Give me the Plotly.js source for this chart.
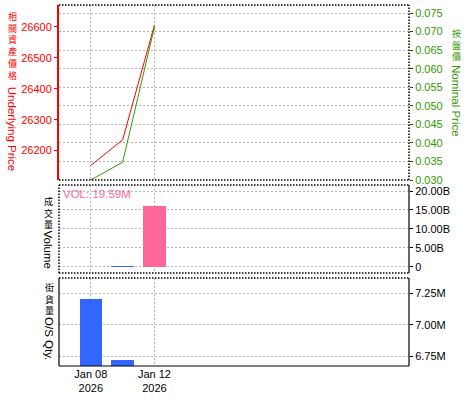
<!DOCTYPE html>
<html><head><meta charset="utf-8">
<script src="https://cdn.plot.ly/plotly-3.0.1.min.js"></script>
<style>html,body{margin:0;padding:0;background:#fff}#chart{width:475px;height:400px}</style>
</head><body><div id="chart"></div>
<script>
// ---- data ----
const dates = ["2026-01-08 12:00", "2026-01-09 12:00", "2026-01-12 12:00"];
const underlyingPrice = [26152, 26235, 26606];
const nominalPrice = [0.0300, 0.0348, 0.0712];
const volumeB = [0, 0.3, 16.05];
const volumeColors = ["#3366ff", "#3366ff", "#ff6699"];
const osQtyM = [7.205, 6.718, null];
const xTickVals = ["2026-01-08 12:00", "2026-01-12 12:00"];
const xTickText = ["Jan 08<br>2026", "Jan 12<br>2026"];
const underlyingTicks = [26200, 26300, 26400, 26500, 26600];
const volTickVals = [0, 5, 10, 15, 20];
const volTickText = ["0", "5.00B", "10.00B", "15.00B", "20.00B"];
const osTickVals = [6.75, 7.00, 7.25];
const osTickText = ["6.75M", "7.00M", "7.25M"];
const volLabel = "VOL: 19.59M";

// ---- geometry ----
const W = 475, H = 400, L = 59, R = 66, T = 5, B = 34;
const pw = W - L - R, ph = H - T - B;
const px2x = p => (p - L) / pw;
const px2y = p => (H - B - p) / ph;

const RED = "#ff0000", GREEN = "#339900", PINK = "#ff6699", BLUE = "#3366ff";
const GRID = "#b4b4b4";
const tickFont = {family: "Liberation Sans, Arial, sans-serif", size: 11, color: "#000"};
const xRange = ["2026-01-07 12:00", "2026-01-22 12:00"];
const rb = [{bounds: ["sat", "mon"]}];

const topDom = [px2y(180), 1];
const midDom = [px2y(273), px2y(185)];
const botDom = [0, px2y(278)];

function xax(anchor, labels) {
  return {
    type: "date", anchor: anchor, domain: [0, 1], range: xRange, rangebreaks: rb,
    tickmode: "array", tickvals: xTickVals, ticktext: xTickText,
    showticklabels: labels, ticks: "", showgrid: true, gridcolor: GRID, griddash: "2px,2px",
    zeroline: false, showline: false, tickfont: tickFont, fixedrange: true
  };
}

const traces = [
  {x: dates, y: underlyingPrice, xaxis: "x", yaxis: "y", type: "scatter", mode: "lines",
   line: {color: RED, width: 1}, showlegend: false, hoverinfo: "skip"},
  {x: dates, y: nominalPrice, xaxis: "x", yaxis: "y2", type: "scatter", mode: "lines",
   line: {color: GREEN, width: 1}, showlegend: false, hoverinfo: "skip"},
  {x: dates, y: volumeB, xaxis: "x2", yaxis: "y3", type: "bar",
   width: 0.71 * 86400000, marker: {color: volumeColors, line: {width: 0}}, showlegend: false, hoverinfo: "skip"},
  {x: dates, y: osQtyM, xaxis: "x3", yaxis: "y4", type: "bar",
   width: 0.71 * 86400000, marker: {color: BLUE, line: {width: 0}}, showlegend: false, hoverinfo: "skip"}
];

// vertical titles: CJK upright (stacked lines), Latin rotated to read downward
const annotations = [];
function vtitle(cjk, latin, xpx, cjkTop, latinCenter, color, cjkSize, latinSize) {
  annotations.push({text: Array.from(cjk).join("<br>"), xref: "paper", yref: "paper",
    x: px2x(xpx), y: px2y(cjkTop), xanchor: "center", yanchor: "top", borderpad: 0, showarrow: false,
    font: {family: "Noto Sans CJK TC, sans-serif", size: cjkSize, color: color}});
  annotations.push({text: latin, xref: "paper", yref: "paper", x: px2x(xpx), y: px2y(latinCenter),
    xanchor: "center", yanchor: "middle", textangle: 90, borderpad: 0, showarrow: false,
    font: {family: "Liberation Sans, Arial, sans-serif", size: latinSize, color: color}});
}
vtitle("相關資產價格", "Underlying Price", 12.7, 9, 128.5, RED, 9, 11.5);
vtitle("按盤價", "Nominal Price", 456, 26, 101, GREEN, 9, 11.5);
vtitle("成交量", "Volume", 48, 194, 249.5, "#000", 9, 11.5);
vtitle("街貨量", "O/S Qty.", 49, 280, 338, "#000", 9, 11.5);
annotations.push({text: volLabel, xref: "paper", yref: "paper", x: px2x(62), y: px2y(194),
  xanchor: "left", yanchor: "middle", showarrow: false, borderpad: 0,
  font: {family: "Liberation Sans, Arial, sans-serif", size: 11.5, color: PINK}});

// panel borders
const DOT = "1.5px,1.5px";
function seg(x0, y0, x1, y1, color, dash, w) {
  return {type: "line", xref: "paper", yref: "paper", x0: x0, y0: y0, x1: x1, y1: y1,
    line: {color: color, width: w || 1.5, dash: dash || "solid"}, layer: "above"};
}
const shapes = [
  seg(0, topDom[1], 1, topDom[1], "#000", DOT),
  seg(0, topDom[0], 1, topDom[0], "#000", DOT),
  seg(1, topDom[0], 1, topDom[1], "#000", DOT),
  seg(0, midDom[1], 1, midDom[1], "#000", DOT),
  seg(0, midDom[0], 1, midDom[0], "#000", DOT),
  seg(0, midDom[0], 0, midDom[1], "#000", DOT),
  seg(1, midDom[0], 1, midDom[1], "#000", "solid", 1.2),
  seg(0, botDom[1], 1, botDom[1], "#000", DOT),
  seg(0, botDom[0], 0, botDom[1], "#000", "solid", 1.2),
  seg(1, botDom[0], 1, botDom[1], "#000", "solid", 1.2),
  seg(0, botDom[0], 1, botDom[0], "#000", "solid", 1.2)
];

const layout = {
  width: W, height: H, margin: {l: L, r: R, t: T, b: B},
  paper_bgcolor: "#fff", plot_bgcolor: "#fff", showlegend: false, bargap: 0,
  xaxis: xax("y", false),
  xaxis2: xax("y3", false),
  xaxis3: xax("y4", true),
  yaxis: {domain: topDom, anchor: "x", side: "left", range: [26105, 26671],
    tickmode: "array", tickvals: underlyingTicks, tickformat: "d", ticks: "outside", ticklen: 3, tickcolor: RED,
    tickfont: Object.assign({}, tickFont, {color: RED}), showline: true, linecolor: RED, linewidth: 2,
    showgrid: false, zeroline: false, fixedrange: true},
  yaxis2: {overlaying: "y", anchor: "x", side: "right", range: [0.030, 0.07717],
    tickmode: "linear", tick0: 0.030, dtick: 0.005, tickformat: ".3f",
    ticks: "outside", ticklen: 3, tickcolor: "#333",
    tickfont: Object.assign({}, tickFont, {color: GREEN}), showline: false,
    showgrid: true, gridcolor: GRID, griddash: "2px,2px", zeroline: false, fixedrange: true},
  yaxis3: {domain: midDom, anchor: "x2", side: "right", range: [-1.67, 21.6],
    tickmode: "array", tickvals: volTickVals, ticktext: volTickText,
    ticks: "outside", ticklen: 3, tickcolor: "#000", tickfont: tickFont, showline: false,
    showgrid: true, gridcolor: GRID, griddash: "2px,2px", zeroline: false, fixedrange: true},
  yaxis4: {domain: botDom, anchor: "x3", side: "right", range: [6.673, 7.374],
    tickmode: "array", tickvals: osTickVals, ticktext: osTickText,
    ticks: "outside", ticklen: 3, tickcolor: "#000", tickfont: tickFont, showline: false,
    showgrid: true, gridcolor: GRID, griddash: "2px,2px", zeroline: false, fixedrange: true},
  annotations: annotations,
  shapes: shapes
};

Plotly.newPlot("chart", traces, layout, {displayModeBar: false, staticPlot: true});
</script>
</body></html>
